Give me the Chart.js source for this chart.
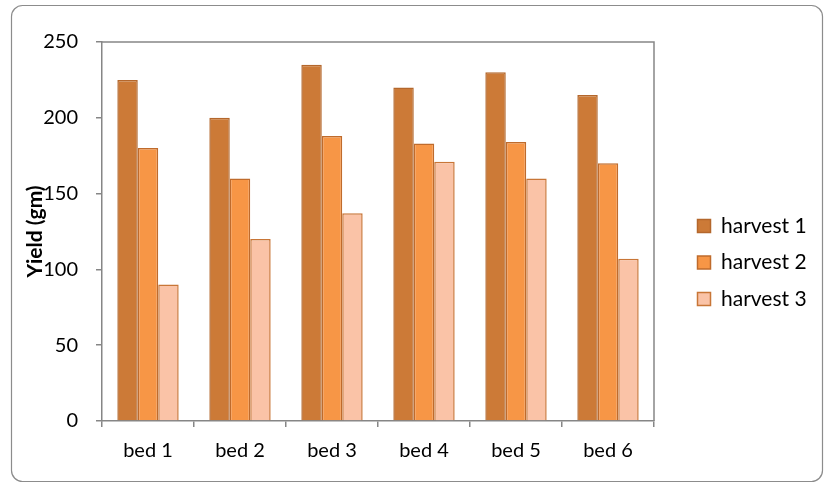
<!DOCTYPE html>
<html>
<head>
<meta charset="utf-8">
<script src="https://cdn.jsdelivr.net/npm/chart.js@4/dist/chart.umd.min.js"></script>
<style>
  html, body { margin: 0; padding: 0; background: #ffffff; }
  canvas { display: block; }
</style>
</head>
<body>
<canvas id="yield" width="825" height="483"></canvas>
<script>
// Yield per bed over three harvests
const beds = ['bed 1', 'bed 2', 'bed 3', 'bed 4', 'bed 5', 'bed 6'];
const harvest1 = [225, 200, 235, 220, 230, 215];
const harvest2 = [180, 160, 188, 183, 184, 170];
const harvest3 = [90, 120, 137, 171, 160, 107];
const seriesNames = ['harvest 1', 'harvest 2', 'harvest 3'];
const yTicks = [0, 50, 100, 150, 200, 250];

const AXIS_GREY = '#868686';
const FONT = 'Lato, "Open Sans", sans-serif';

// Fixed width for the legend column on the right
const LEGEND_W = 143;

const legendWidth = {
  id: 'legendWidth',
  afterInit(chart) {
    const lg = chart.legend;
    if (!lg) return;
    const fit = lg.fit;
    lg.fit = function () { fit.call(this); this.width = LEGEND_W; };
  }
};

// Rounded frame around the whole chart, plus top/right edges of the plot area
const frame = {
  id: 'frame',
  beforeDraw(chart) {
    const ctx = chart.ctx;
    ctx.save();
    ctx.fillStyle = '#ffffff';
    ctx.fillRect(0, 0, chart.width, chart.height);
    ctx.strokeStyle = '#8c8c8c';
    ctx.lineWidth = 1.2;
    ctx.beginPath();
    ctx.roundRect(11.5, 5.5, 811, 476, 11);
    ctx.stroke();
    ctx.restore();
  },
  beforeDatasetsDraw(chart) {
    const a = chart.chartArea;
    const ctx = chart.ctx;
    ctx.save();
    ctx.strokeStyle = AXIS_GREY;
    ctx.lineWidth = 1.5;
    ctx.beginPath();
    ctx.moveTo(a.left, a.top);
    ctx.lineTo(a.right, a.top);
    ctx.lineTo(a.right, a.bottom);
    ctx.stroke();
    ctx.restore();
  }
};

new Chart(document.getElementById('yield'), {
  type: 'bar',
  data: {
    labels: beds,
    datasets: [
      { label: seriesNames[0], data: harvest1, backgroundColor: '#CC7A37', borderColor: '#B4672C', borderWidth: 1.5 },
      { label: seriesNames[1], data: harvest2, backgroundColor: '#F79646', borderColor: '#BF6B2C', borderWidth: 1.5 },
      { label: seriesNames[2], data: harvest3, backgroundColor: '#FAC3A7', borderColor: '#C87637', borderWidth: 1.5 }
    ]
  },
  options: {
    responsive: false,
    animation: false,
    events: [],
    layout: { padding: { left: 12, right: 0, top: 42, bottom: 0 } },
    datasets: {
      bar: { categoryPercentage: 0.667, barPercentage: 1.0, borderSkipped: 'start' }
    },
    scales: {
      x: {
        grid: { offset: true, drawOnChartArea: false, drawTicks: true, tickLength: 6, color: AXIS_GREY, lineWidth: 1.5 },
        border: { display: true, color: AXIS_GREY, width: 1.5 },
        ticks: { color: '#000000', font: { family: FONT, size: 20 }, padding: 12 },
        afterFit(s) { s.height = 62; }
      },
      y: {
        min: 0,
        max: 250,
        afterBuildTicks(s) { s.ticks = yTicks.map(v => ({ value: v })); },
        grid: { drawOnChartArea: false, drawTicks: true, tickLength: 6, color: AXIS_GREY, lineWidth: 1.5 },
        border: { display: true, color: AXIS_GREY, width: 1.5 },
        ticks: { color: '#000000', font: { family: FONT, size: 20 }, padding: 18 },
        title: { display: true, text: 'Yield (gm)', color: '#000000', font: { family: FONT, size: 21, weight: 'bold' }, padding: { top: 11, bottom: 0 } },
        afterFit(s) { s.width = 90; }
      },
      spacer: {
        position: 'right',
        display: true,
        grid: { display: false },
        border: { display: false },
        ticks: { display: false },
        afterFit(s) { s.width = 28; }
      }
    },
    plugins: {
      legend: {
        position: 'right',
        align: 'center',
        labels: {
          color: '#000000',
          font: { family: FONT, size: 21 },
          boxWidth: 13,
          boxHeight: 13,
          padding: 15.5
        }
      },
      tooltip: { enabled: false },
      title: { display: false }
    }
  },
  plugins: [legendWidth, frame]
});
</script>
</body>
</html>
